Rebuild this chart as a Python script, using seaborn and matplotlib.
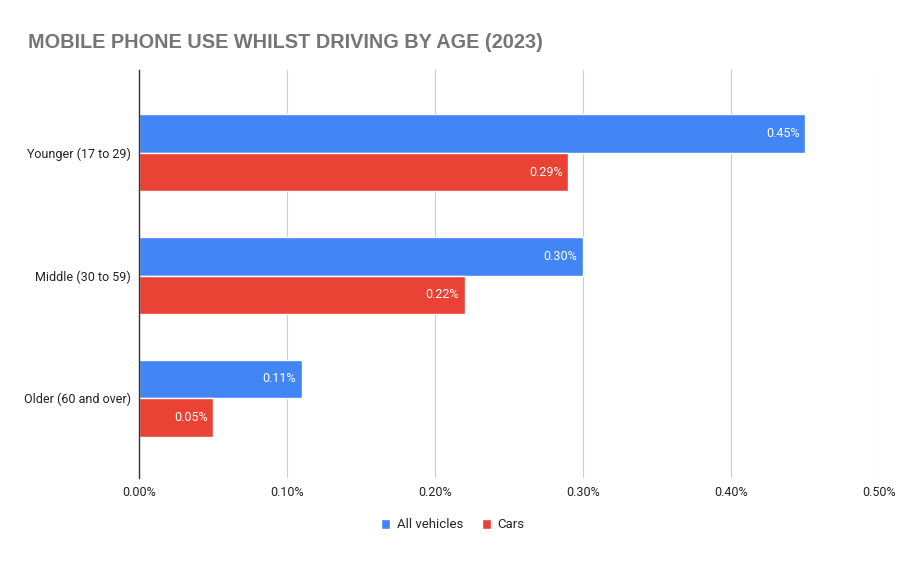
import pandas as pd
import matplotlib.pyplot as plt
import seaborn as sns
from matplotlib.ticker import FuncFormatter

# ==== Data ====
age_groups = ["Younger (17 to 29)", "Middle (30 to 59)", "Older (60 and over)"]
all_vehicles = [0.45, 0.30, 0.11]
cars = [0.29, 0.22, 0.05]
series_names = ["All vehicles", "Cars"]
colors = ["#4285F4", "#EA4335"]

df = pd.DataFrame({
    "group": age_groups * 2,
    "series": [series_names[0]] * 3 + [series_names[1]] * 3,
    "value": all_vehicles + cars,
})

# ==== Plot ====
sns.set_style("white")
plt.rcParams["font.family"] = ["Roboto", "DejaVu Sans"]

fig = plt.figure(figsize=(9.08, 5.61), dpi=100)
ax = fig.add_axes([139 / 908, 1 - 478 / 561, 740 / 908, 408 / 561])

sns.barplot(data=df, y="group", x="value", hue="series", palette=colors,
            order=age_groups, hue_order=series_names, width=0.63,
            saturation=1, edgecolor="white", linewidth=1, ax=ax, orient="h")

for cont in ax.containers:
    texts = ax.bar_label(cont, labels=[f"{v:.2f}%" for v in cont.datavalues],
                         padding=-4, color="white", fontsize=9)
    for t in texts:
        t.set_ha("right")

ax.set_xlim(0, 0.5)
ax.set_ylim(2.65, -0.675)
ax.set_xticks([0, 0.1, 0.2, 0.3, 0.4, 0.5])
ax.xaxis.set_major_formatter(FuncFormatter(lambda v, p: f"{v:.2f}%"))
ax.grid(axis="x", color="#cccccc", linewidth=0.8)
ax.set_axisbelow(True)
ax.set_xlabel("")
ax.set_ylabel("")
ax.tick_params(axis="both", length=0, labelsize=9, colors="#222222", pad=6)
for s in ["top", "right", "bottom"]:
    ax.spines[s].set_visible(False)
ax.spines["left"].set_color("#333333")
ax.spines["left"].set_linewidth(1)

ax.legend(loc="center", bbox_to_anchor=(453 / 908, 1 - 525 / 561),
          bbox_transform=fig.transFigure, ncol=2,
          frameon=False, fontsize=9.5, handlelength=0.7, handleheight=0.7,
          columnspacing=1.4, handletextpad=0.5)

fig.text(28 / 908, 1 - 42 / 561, "MOBILE PHONE USE WHILST DRIVING BY AGE (2023)",
         fontsize=14.3, fontweight="bold", color="#757575",
         family=["Liberation Sans", "DejaVu Sans"], va="center", ha="left")

plt.savefig("out.png", dpi=100)
